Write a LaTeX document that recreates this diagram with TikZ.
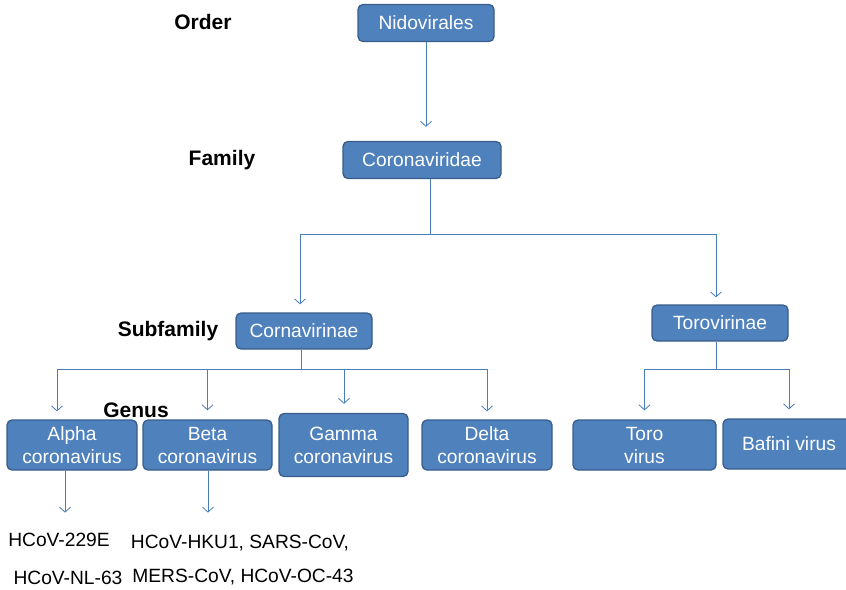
\documentclass[tikz,border=0pt]{standalone}
\usepackage{fontspec}
\setmainfont{Liberation Sans}
\usetikzlibrary{arrows.meta}
\definecolor{boxfill}{HTML}{4F81BD}
\definecolor{boxline}{HTML}{385D8A}
\definecolor{linkc}{HTML}{4A7EBB}
\tikzset{
  box/.style={draw=boxline, fill=boxfill, rounded corners=5pt, text=white,
    font=\fontsize{19.2}{23}\selectfont, align=center, line width=1.3pt, inner sep=0pt},
  lvl/.style={font=\bfseries\fontsize{21}{24}\selectfont},
  leaf/.style={font=\fontsize{19.2}{23}\selectfont},
  link/.style={draw=linkc, line width=0.8pt, -{Straight Barb[length=5pt,width=11pt]}}
}
\begin{document}
\begin{tikzpicture}[x=1pt,y=-1pt]
   \useasboundingbox (0,0) rectangle (846,589);
   \node[lvl] (order) at (203,22) {Order};
   \node[lvl] (family) at (222,160) {Family};
   \node[lvl] (subfam) at (168,331) {Subfamily};
   \node[lvl] (genus) at (136,410) {Genus};
   \node[box, minimum width=136, minimum height=37] (nido) at (426,23) {Nidovirales};
   \node[box, minimum width=158, minimum height=37] (cor) at (422,160) {Coronaviridae};
   \node[box, minimum width=136, minimum height=36] (corn) at (304,331) {Cornavirinae};
   \node[box, minimum width=136, minimum height=36] (tor) at (720,323) {Torovirinae};
   \node[box, minimum width=130, minimum height=50] (alpha) at (72,445) {Alpha\\coronavirus};
   \node[box, minimum width=129, minimum height=50] (beta) at (207.5,445) {Beta\\coronavirus};
   \node[box, minimum width=129, minimum height=63] (gamma) at (343.5,445) {Gamma\\coronavirus};
   \node[box, minimum width=130, minimum height=50] (delta) at (487,445) {Delta\\coronavirus};
   \node[box, minimum width=143, minimum height=50] (toro) at (644.5,445) {Toro\\virus};
   \node[box, minimum width=132, minimum height=50] (bafini) at (789,444) {Bafini virus};
   \node[leaf] (hcova) at (59,540) {HCoV-229E};
   \node[leaf] (hcovb) at (68,578) {HCoV-NL-63};
   \node[leaf] (hcovc) at (240,543) {HCoV-HKU1, SARS-CoV,};
   \node[leaf] (hcovd) at (243,577) {MERS-CoV, HCoV-OC-43};
   \draw[link] (nido.south) -- ([yshift=14]cor.north -| nido.south);
   \draw[draw=linkc, line width=0.8pt] ([xshift=8]cor.south) -- ++(0,55) coordinate (fbus);
   \draw[link] (fbus) -| ([xshift=-4,yshift=8]corn.north);
   \draw[link] (fbus) -| ([xshift=-4,yshift=7]tor.north);
   \draw[draw=linkc, line width=0.8pt] ([xshift=-3]corn.south) -- ++(0,20) coordinate (cbus);
   \foreach \g/\dx/\dy in {alpha/-15/8,beta/0/9,gamma/0.5/9,delta/0/8} {
    \draw[link] (cbus) -| ([xshift=\dx,yshift=\dy]\g.north);
   }
   \draw[draw=linkc, line width=0.8pt] ([xshift=-4]tor.south) -- ++(0,28) coordinate (tbus);
   \foreach \g in {toro,bafini} {
    \draw[link] (tbus) -| ([yshift=9]\g.north);
   }
   \draw[link] ([xshift=-7]alpha.south) -- ++(0,42);
   \draw[link] ([xshift=0.5]beta.south) -- ++(0,42);
  \end{tikzpicture}
\end{document}
